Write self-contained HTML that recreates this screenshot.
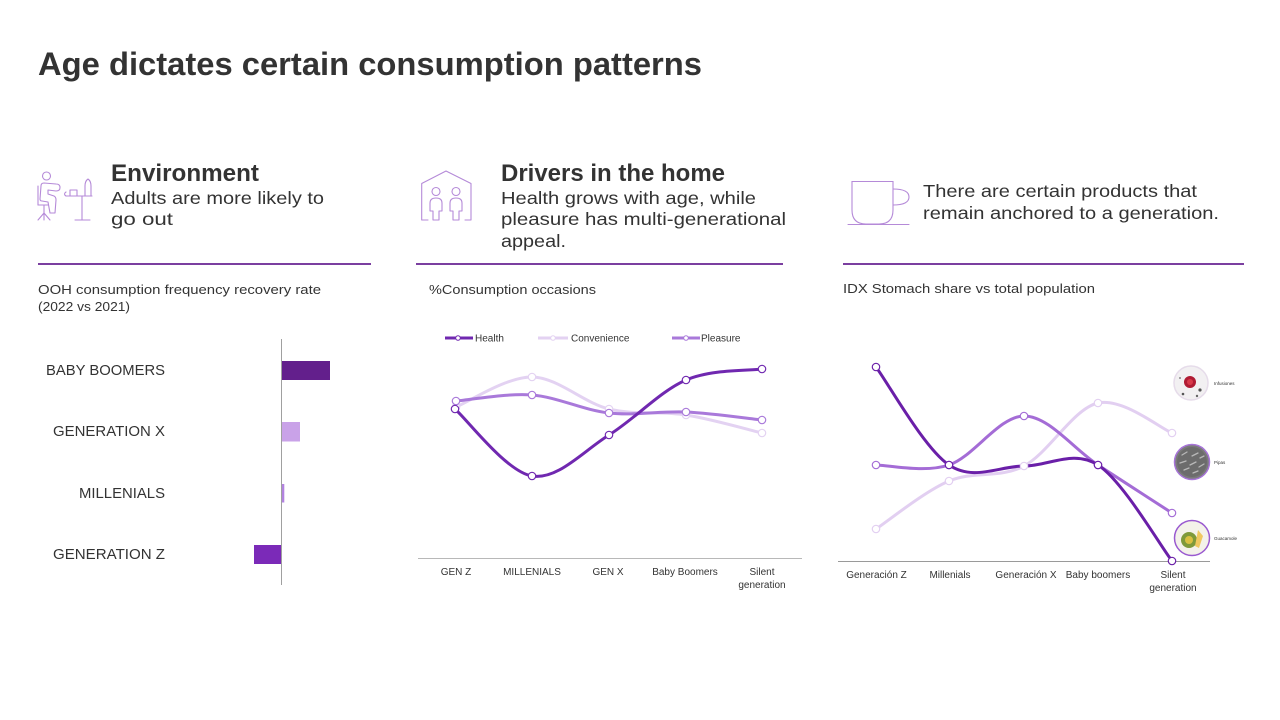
<!DOCTYPE html>
<html>
<head>
<meta charset="utf-8">
<style>
  html,body{margin:0;padding:0;background:#fff;}
  body{width:1280px;height:720px;overflow:hidden;}
  svg{display:block;}
  text{font-family:"Liberation Sans",sans-serif;fill:#333;}
</style>
</head>
<body>
<svg width="1280" height="720" viewBox="0 0 1280 720" xmlns="http://www.w3.org/2000/svg">
  <rect width="1280" height="720" fill="#fff"/>

  <!-- Title -->
  <text x="38" y="75" font-size="32" font-weight="bold" fill="#2e2e2e" textLength="664" lengthAdjust="spacingAndGlyphs">Age dictates certain consumption patterns</text>

  <!-- ===== Section 1 ===== -->
  <g fill="none" stroke="#b58ad8" stroke-width="1.1" stroke-linecap="round" stroke-linejoin="round">
    <circle cx="46.5" cy="176" r="4"/>
    <path d="M41,186 Q41,183 44,183 L56,184 Q60,184 60,187.5 Q60,191 56,191 L48,190 L48,194 L54,196 Q56,197 56,200 L55,213 L50,213 L48,202 L42,201 Q40,201 40,199 Z"/>
    <line x1="38" y1="186" x2="38" y2="205"/>
    <line x1="38" y1="205" x2="48" y2="205"/>
    <line x1="44" y1="205" x2="44" y2="213"/>
    <path d="M38,220 L44,213 L50,220 M44,213 L44,220"/>
    <line x1="66" y1="196" x2="92" y2="196"/>
    <line x1="82" y1="196" x2="82" y2="220"/>
    <line x1="75" y1="220" x2="90" y2="220"/>
    <rect x="70" y="190" width="7" height="6"/>
    <path d="M66,192 Q63,194 66,196"/>
    <path d="M85,196 L85,186 Q85,181 88,179 Q91,181 91,186 L91,196"/>
  </g>
  <text x="111" y="181" font-size="24" font-weight="bold" fill="#2e2e2e" textLength="148" lengthAdjust="spacingAndGlyphs">Environment</text>
  <text x="111" y="204" font-size="17.5" textLength="213" lengthAdjust="spacingAndGlyphs">Adults are more likely to</text>
  <text x="111" y="225" font-size="17.5" textLength="62" lengthAdjust="spacingAndGlyphs">go  out</text>
  <rect x="38" y="263" width="333" height="2" fill="#7b3fa0"/>
  <text x="38" y="294" font-size="12.5" textLength="283" lengthAdjust="spacingAndGlyphs">OOH consumption frequency recovery rate</text>
  <text x="38" y="311" font-size="12.5" textLength="92" lengthAdjust="spacingAndGlyphs">(2022 vs 2021)</text>

  <!-- bar chart -->
  <line x1="281.5" y1="339" x2="281.5" y2="585" stroke="#a0a0a0" stroke-width="1"/>
  <rect x="282" y="361" width="48" height="19" fill="#631f8c"/>
  <rect x="282" y="422" width="18" height="19.5" fill="#c9a2e8"/>
  <rect x="282" y="484" width="2.3" height="18.5" fill="#b283e0"/>
  <rect x="254" y="545" width="27" height="19" fill="#7b2ab8"/>
  <g font-size="15" text-anchor="end">
    <text x="165" y="375" textLength="119" lengthAdjust="spacingAndGlyphs">BABY BOOMERS</text>
    <text x="165" y="436" textLength="112" lengthAdjust="spacingAndGlyphs">GENERATION X</text>
    <text x="165" y="498" textLength="86" lengthAdjust="spacingAndGlyphs">MILLENIALS</text>
    <text x="165" y="559" textLength="112" lengthAdjust="spacingAndGlyphs">GENERATION Z</text>
  </g>

  <!-- ===== Section 2 ===== -->
  <g fill="none" stroke="#b58ad8" stroke-width="1.1" stroke-linecap="round" stroke-linejoin="round">
    <path d="M428,220 L421.7,220 L421.7,183.5 L446,171 L471,183.5 L471,220 L465,220"/>
    <circle cx="436" cy="191.5" r="4"/>
    <circle cx="456" cy="191.5" r="4"/>
    <path d="M430,211 L430,203 Q430,198 436,198 Q442,198 442,203 L442,211 L439,211 L439,220 L433,220 L433,211 Z"/>
    <path d="M450,211 L450,203 Q450,198 456,198 Q462,198 462,203 L462,211 L459,211 L459,220 L453,220 L453,211 Z"/>
  </g>
  <text x="501" y="181" font-size="24" font-weight="bold" fill="#2e2e2e" textLength="224" lengthAdjust="spacingAndGlyphs">Drivers in the home</text>
  <text x="501" y="204" font-size="17.5" textLength="255" lengthAdjust="spacingAndGlyphs">Health grows with age, while</text>
  <text x="501" y="225" font-size="17.5" textLength="285" lengthAdjust="spacingAndGlyphs">pleasure has multi-generational</text>
  <text x="501" y="247" font-size="17.5" textLength="65" lengthAdjust="spacingAndGlyphs">appeal.</text>
  <rect x="416" y="263" width="367" height="2" fill="#7b3fa0"/>
  <text x="429" y="294" font-size="12.5" textLength="167" lengthAdjust="spacingAndGlyphs">%Consumption occasions</text>

  <!-- legend -->
  <line x1="445" y1="338" x2="473" y2="338" stroke="#7028b0" stroke-width="3"/>
  <circle cx="458" cy="338" r="2.3" fill="#fff" stroke="#7028b0" stroke-width="1"/>
  <text x="475" y="341.5" font-size="10">Health</text>
  <line x1="538" y1="338" x2="568" y2="338" stroke="#e3d2f2" stroke-width="3"/>
  <circle cx="553" cy="338" r="2.3" fill="#fff" stroke="#e3d2f2" stroke-width="1"/>
  <text x="571" y="341.5" font-size="10">Convenience</text>
  <line x1="672" y1="338" x2="700" y2="338" stroke="#a979da" stroke-width="3"/>
  <circle cx="686" cy="338" r="2.3" fill="#fff" stroke="#a979da" stroke-width="1"/>
  <text x="701" y="341.5" font-size="10">Pleasure</text>

  <!-- lines chart 2 -->
  <g fill="none" stroke-width="3" stroke-linecap="round">
    <path stroke="#e3d2f2" d="M456,407 C468.7,402 506.5,376.7 532,377 C557.5,377.3 583.3,402.7 609,409 C634.7,415.3 660.5,411 686,415 C711.5,419 749.3,430 762,433"/>
    <path stroke="#a979da" d="M456,401 C468.7,400 506.5,393 532,395 C557.5,397 583.3,410.2 609,413 C634.7,415.8 660.5,410.8 686,412 C711.5,413.2 749.3,418.7 762,420"/>
    <path stroke="#7028b0" d="M455,409 C467.8,420.2 506.3,471.7 532,476 C557.7,480.3 583.3,451 609,435 C634.7,419 660.5,391 686,380 C711.5,369 749.3,370.8 762,369"/>
  </g>
  <g fill="#fff" stroke-width="1.2">
    <g stroke="#e3d2f2">
      <circle cx="456" cy="407" r="3.7"/><circle cx="532" cy="377" r="3.7"/><circle cx="609" cy="409" r="3.7"/><circle cx="686" cy="415" r="3.7"/><circle cx="762" cy="433" r="3.7"/>
    </g>
    <g stroke="#a979da">
      <circle cx="456" cy="401" r="3.7"/><circle cx="532" cy="395" r="3.7"/><circle cx="609" cy="413" r="3.7"/><circle cx="686" cy="412" r="3.7"/><circle cx="762" cy="420" r="3.7"/>
    </g>
    <g stroke="#7028b0">
      <circle cx="455" cy="409" r="3.7"/><circle cx="532" cy="476" r="3.7"/><circle cx="609" cy="435" r="3.7"/><circle cx="686" cy="380" r="3.7"/><circle cx="762" cy="369" r="3.7"/>
    </g>
  </g>
  <line x1="418" y1="558.5" x2="802" y2="558.5" stroke="#b8b8b8" stroke-width="1"/>
  <g font-size="10" text-anchor="middle">
    <text x="456" y="575">GEN Z</text>
    <text x="532" y="575">MILLENIALS</text>
    <text x="608" y="575">GEN X</text>
    <text x="685" y="575">Baby Boomers</text>
    <text x="762" y="575">Silent</text>
    <text x="762" y="588">generation</text>
  </g>

  <!-- ===== Section 3 ===== -->
  <g fill="none" stroke="#b58ad8" stroke-width="1.1" stroke-linecap="round">
    <path d="M852,181.5 L893,181.5 L893,210 Q893,224 879,224 L866,224 Q852,224 852,210 Z"/>
    <path d="M893,189 Q909,189 909,197 Q909,205 893,205"/>
    <line x1="848" y1="224.5" x2="909" y2="224.5"/>
  </g>
  <text x="923" y="197" font-size="17.5" textLength="274" lengthAdjust="spacingAndGlyphs">There are certain products that</text>
  <text x="923" y="219" font-size="17.5" textLength="296" lengthAdjust="spacingAndGlyphs">remain anchored to a generation.</text>
  <rect x="843" y="263" width="401" height="2" fill="#7b3fa0"/>
  <text x="843" y="293" font-size="12.5" textLength="252" lengthAdjust="spacingAndGlyphs">IDX Stomach share vs total population</text>

  <!-- lines chart 3 -->
  <g fill="none" stroke-width="3" stroke-linecap="round">
    <path stroke="#e2cff1" d="M876,529 C888.2,521 924.3,491.5 949,481 C973.7,470.5 999.2,479 1024,466 C1048.8,453 1073.3,408.5 1098,403 C1122.7,397.5 1159.7,428 1172,433"/>
    <path stroke="#a46cd6" d="M876,465 C888.2,465 924.3,473.2 949,465 C973.7,456.8 999.2,416 1024,416 C1048.8,416 1073.3,448.8 1098,465 C1122.7,481.2 1159.7,505 1172,513"/>
    <path stroke="#6a1fa8" d="M876,367 C888.2,383.3 924.3,448.5 949,465 C973.7,481.5 999.2,466 1024,466 C1048.8,466 1073.3,449.2 1098,465 C1122.7,480.8 1159.7,545 1172,561"/>
  </g>
  <line x1="838" y1="561.5" x2="1210" y2="561.5" stroke="#9a9a9a" stroke-width="1"/>
  <g fill="#fff" stroke-width="1.2">
    <g stroke="#e2cff1">
      <circle cx="876" cy="529" r="3.7"/><circle cx="949" cy="481" r="3.7"/><circle cx="1024" cy="466" r="3.7"/><circle cx="1098" cy="403" r="3.7"/><circle cx="1172" cy="433" r="3.7"/>
    </g>
    <g stroke="#a46cd6">
      <circle cx="876" cy="465" r="3.7"/><circle cx="949" cy="465" r="3.7"/><circle cx="1024" cy="416" r="3.7"/><circle cx="1098" cy="465" r="3.7"/><circle cx="1172" cy="513" r="3.7"/>
    </g>
    <g stroke="#6a1fa8">
      <circle cx="876" cy="367" r="3.7"/><circle cx="949" cy="465" r="3.7"/><circle cx="1098" cy="465" r="3.7"/><circle cx="1172" cy="561" r="3.7"/>
    </g>
  </g>
  <g font-size="10" text-anchor="middle">
    <text x="876.5" y="578">Generación Z</text>
    <text x="950" y="578">Millenials</text>
    <text x="1026" y="578">Generación X</text>
    <text x="1098" y="578">Baby boomers</text>
    <text x="1173" y="578">Silent</text>
    <text x="1173" y="591">generation</text>
  </g>

  <!-- product images -->
  <circle cx="1191" cy="383" r="17" fill="#f2f0f2" stroke="#e6dcea" stroke-width="1.5"/>
  <circle cx="1190" cy="382" r="6" fill="#b01c34"/>
  <circle cx="1190" cy="382" r="3" fill="#d83a4a"/>
  <circle cx="1200" cy="390" r="1.6" fill="#555"/>
  <circle cx="1183" cy="394" r="1.3" fill="#555"/>
  <circle cx="1197" cy="396" r="1.2" fill="#666"/>
  <circle cx="1180" cy="378" r="1" fill="#888"/>
  <text x="1214" y="385" font-size="4.5" fill="#555">Infusiones</text>

  <circle cx="1192" cy="462" r="17.5" fill="#7a7a7a" stroke="#a774d8" stroke-width="1.5"/>
  <circle cx="1192" cy="462" r="15" fill="#6c6c6c"/>
  <g stroke="#b8b8b8" stroke-width="1.3" stroke-linecap="round">
    <line x1="1182" y1="455" x2="1187" y2="452"/><line x1="1192" y1="456" x2="1198" y2="453"/>
    <line x1="1180" y1="463" x2="1186" y2="461"/><line x1="1190" y1="465" x2="1196" y2="462"/>
    <line x1="1199" y1="467" x2="1204" y2="464"/><line x1="1184" y1="470" x2="1189" y2="468"/>
    <line x1="1193" y1="473" x2="1198" y2="471"/><line x1="1200" y1="458" x2="1204" y2="456"/>
  </g>
  <text x="1214" y="464" font-size="4.5" fill="#555">Pipas</text>

  <circle cx="1192" cy="538" r="17.5" fill="#f4f2ea" stroke="#9a5ad0" stroke-width="1.5"/>
  <circle cx="1189" cy="540" r="8" fill="#7f9a3a"/>
  <circle cx="1189" cy="540" r="4" fill="#d9c040"/>
  <path d="M1198,530 L1203,536 L1199,548 L1195,546 Z" fill="#f0c860"/>
  <text x="1214" y="540" font-size="4.5" fill="#555">Guacamole</text>
</svg>
</body>
</html>
